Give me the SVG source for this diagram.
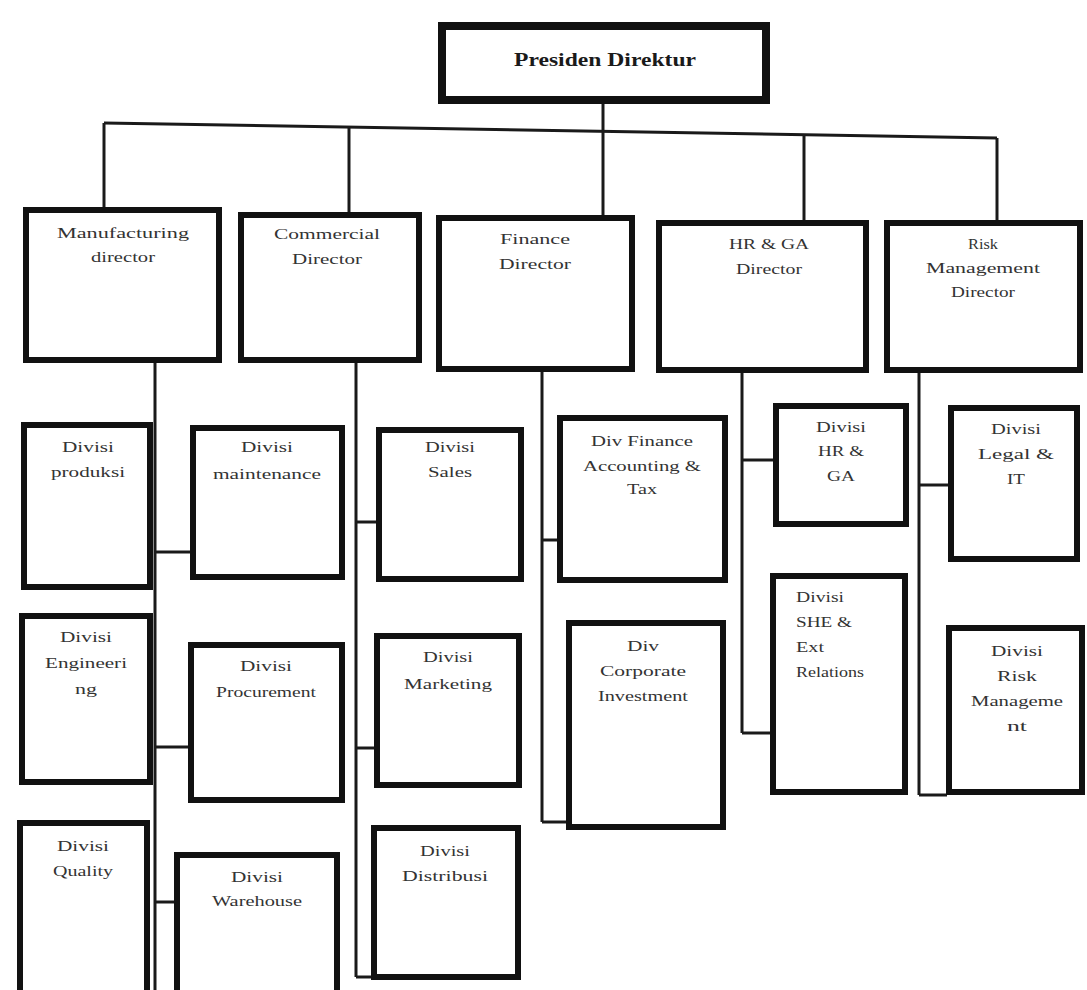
<svg xmlns="http://www.w3.org/2000/svg" width="1087" height="990" viewBox="0 0 1087 990">
<style>
.bg{fill:#ffffff}
.top{fill:#fff;stroke:#111;stroke-width:8}
.l2{fill:#fff;stroke:#111;stroke-width:6}
.l3{fill:#fff;stroke:#111;stroke-width:6}
.c{fill:none;stroke:#1a1a1a;stroke-width:3}
text{font-family:"Liberation Serif","Times New Roman",serif;fill:#333;text-anchor:middle;font-size:14px}
.t0{font-weight:bold;font-size:18px;fill:#1a1a1a}
.la{text-anchor:start}
</style>
<rect class="bg" x="0" y="0" width="1087" height="990"/>

<g id="connectors">
<polyline class="c" points="603,104 603,131"/>
<polyline class="c" points="104,123 997,138"/>
<line class="c" x1="104" y1="123" x2="104" y2="208"/>
<line class="c" x1="349" y1="127" x2="349" y2="213"/>
<line class="c" x1="603" y1="131" x2="603" y2="216"/>
<line class="c" x1="804" y1="135" x2="804" y2="221"/>
<line class="c" x1="997" y1="138" x2="997" y2="221"/>
<line class="c" x1="155" y1="362" x2="155" y2="990"/>
<line class="c" x1="155" y1="552" x2="191" y2="552"/>
<line class="c" x1="155" y1="747" x2="189" y2="747"/>
<line class="c" x1="155" y1="902" x2="175" y2="902"/>
<line class="c" x1="356" y1="362" x2="356" y2="977"/>
<line class="c" x1="356" y1="522" x2="377" y2="522"/>
<line class="c" x1="356" y1="748" x2="375" y2="748"/>
<line class="c" x1="356" y1="977" x2="372" y2="977"/>
<line class="c" x1="542" y1="371" x2="542" y2="822"/>
<line class="c" x1="542" y1="540" x2="558" y2="540"/>
<line class="c" x1="542" y1="822" x2="567" y2="822"/>
<line class="c" x1="742" y1="372" x2="742" y2="733"/>
<line class="c" x1="742" y1="460" x2="774" y2="460"/>
<line class="c" x1="742" y1="733" x2="771" y2="733"/>
<line class="c" x1="919" y1="372" x2="919" y2="795"/>
<line class="c" x1="919" y1="485" x2="949" y2="485"/>
<line class="c" x1="919" y1="795" x2="947" y2="795"/>
</g>

<g id="presiden-direktur">
<rect class="top" x="442" y="26" width="324" height="74"/>
<text class="t0" x="605" y="66" textLength="182" lengthAdjust="spacingAndGlyphs">Presiden Direktur</text>
</g>

<g id="manufacturing-director">
<rect class="l2" x="26" y="210" width="193" height="150"/>
<text x="123" y="238" textLength="132" lengthAdjust="spacingAndGlyphs">Manufacturing</text>
<text x="123" y="262" textLength="64" lengthAdjust="spacingAndGlyphs">director</text>
</g>
<g id="commercial-director">
<rect class="l2" x="241" y="215" width="178" height="145"/>
<text x="327" y="239" textLength="106" lengthAdjust="spacingAndGlyphs">Commercial</text>
<text x="327" y="264" textLength="70" lengthAdjust="spacingAndGlyphs">Director</text>
</g>
<g id="finance-director">
<rect class="l2" x="439" y="218" width="193" height="151"/>
<text x="535" y="244" textLength="70" lengthAdjust="spacingAndGlyphs">Finance</text>
<text x="535" y="269" textLength="72" lengthAdjust="spacingAndGlyphs">Director</text>
</g>
<g id="hr-ga-director">
<rect class="l2" x="659" y="223" width="207" height="147"/>
<text x="769" y="249" textLength="80" lengthAdjust="spacingAndGlyphs">HR &amp; GA</text>
<text x="769" y="274" textLength="66" lengthAdjust="spacingAndGlyphs">Director</text>
</g>
<g id="risk-management-director">
<rect class="l2" x="887" y="223" width="193" height="147"/>
<text x="983" y="249" textLength="30" lengthAdjust="spacingAndGlyphs">Risk</text>
<text x="983" y="273" textLength="114" lengthAdjust="spacingAndGlyphs">Management</text>
<text x="983" y="297" textLength="64" lengthAdjust="spacingAndGlyphs">Director</text>
</g>

<g id="divisi-produksi">
<rect class="l3" x="24" y="425" width="126" height="162"/>
<text x="88" y="452" textLength="52" lengthAdjust="spacingAndGlyphs">Divisi</text>
<text x="88" y="477" textLength="74" lengthAdjust="spacingAndGlyphs">produksi</text>
</g>
<g id="divisi-engineering">
<rect class="l3" x="22" y="616" width="128" height="166"/>
<text x="86" y="642" textLength="52" lengthAdjust="spacingAndGlyphs">Divisi</text>
<text x="86" y="668" textLength="82" lengthAdjust="spacingAndGlyphs">Engineeri</text>
<text x="86" y="694" textLength="22" lengthAdjust="spacingAndGlyphs">ng</text>
</g>
<g id="divisi-quality">
<rect class="l3" x="20" y="823" width="127" height="175"/>
<text x="83" y="851" textLength="52" lengthAdjust="spacingAndGlyphs">Divisi</text>
<text x="83" y="876" textLength="60" lengthAdjust="spacingAndGlyphs">Quality</text>
</g>
<g id="divisi-maintenance">
<rect class="l3" x="193" y="428" width="149" height="149"/>
<text x="267" y="452" textLength="52" lengthAdjust="spacingAndGlyphs">Divisi</text>
<text x="267" y="479" textLength="108" lengthAdjust="spacingAndGlyphs">maintenance</text>
</g>
<g id="divisi-procurement">
<rect class="l3" x="191" y="645" width="151" height="155"/>
<text x="266" y="671" textLength="52" lengthAdjust="spacingAndGlyphs">Divisi</text>
<text x="266" y="697" textLength="100" lengthAdjust="spacingAndGlyphs">Procurement</text>
</g>
<g id="divisi-warehouse">
<rect class="l3" x="177" y="855" width="160" height="145"/>
<text x="257" y="882" textLength="52" lengthAdjust="spacingAndGlyphs">Divisi</text>
<text x="257" y="906" textLength="90" lengthAdjust="spacingAndGlyphs">Warehouse</text>
</g>
<g id="divisi-sales">
<rect class="l3" x="379" y="430" width="142" height="149"/>
<text x="450" y="452" textLength="50" lengthAdjust="spacingAndGlyphs">Divisi</text>
<text x="450" y="477" textLength="44" lengthAdjust="spacingAndGlyphs">Sales</text>
</g>
<g id="divisi-marketing">
<rect class="l3" x="377" y="636" width="142" height="149"/>
<text x="448" y="662" textLength="50" lengthAdjust="spacingAndGlyphs">Divisi</text>
<text x="448" y="689" textLength="88" lengthAdjust="spacingAndGlyphs">Marketing</text>
</g>
<g id="divisi-distribusi">
<rect class="l3" x="374" y="828" width="144" height="149"/>
<text x="445" y="856" textLength="50" lengthAdjust="spacingAndGlyphs">Divisi</text>
<text x="445" y="881" textLength="86" lengthAdjust="spacingAndGlyphs">Distribusi</text>
</g>
<g id="div-finance-accounting-tax">
<rect class="l3" x="560" y="418" width="165" height="162"/>
<text x="642" y="446" textLength="102" lengthAdjust="spacingAndGlyphs">Div Finance</text>
<text x="642" y="471" textLength="118" lengthAdjust="spacingAndGlyphs">Accounting &amp;</text>
<text x="642" y="494" textLength="30" lengthAdjust="spacingAndGlyphs">Tax</text>
</g>
<g id="div-corporate-investment">
<rect class="l3" x="569" y="623" width="154" height="204"/>
<text x="643" y="651" textLength="32" lengthAdjust="spacingAndGlyphs">Div</text>
<text x="643" y="676" textLength="86" lengthAdjust="spacingAndGlyphs">Corporate</text>
<text x="643" y="701" textLength="90" lengthAdjust="spacingAndGlyphs">Investment</text>
</g>
<g id="divisi-hr-ga">
<rect class="l3" x="776" y="406" width="130" height="118"/>
<text x="841" y="432" textLength="50" lengthAdjust="spacingAndGlyphs">Divisi</text>
<text x="841" y="456" textLength="46" lengthAdjust="spacingAndGlyphs">HR &amp;</text>
<text x="841" y="481" textLength="28" lengthAdjust="spacingAndGlyphs">GA</text>
</g>
<g id="divisi-she-ext-relations">
<rect class="l3" x="773" y="576" width="132" height="216"/>
<text class="la" x="796" y="602" textLength="48" lengthAdjust="spacingAndGlyphs">Divisi</text>
<text class="la" x="796" y="627" textLength="56" lengthAdjust="spacingAndGlyphs">SHE &amp;</text>
<text class="la" x="796" y="652" textLength="28" lengthAdjust="spacingAndGlyphs">Ext</text>
<text class="la" x="796" y="677" textLength="68" lengthAdjust="spacingAndGlyphs">Relations</text>
</g>
<g id="divisi-legal-it">
<rect class="l3" x="951" y="408" width="126" height="151"/>
<text x="1016" y="434" textLength="50" lengthAdjust="spacingAndGlyphs">Divisi</text>
<text x="1016" y="459" textLength="76" lengthAdjust="spacingAndGlyphs">Legal &amp;</text>
<text x="1016" y="484" textLength="18" lengthAdjust="spacingAndGlyphs">IT</text>
</g>
<g id="divisi-risk-management">
<rect class="l3" x="949" y="628" width="133" height="164"/>
<text x="1017" y="656" textLength="52" lengthAdjust="spacingAndGlyphs">Divisi</text>
<text x="1017" y="681" textLength="40" lengthAdjust="spacingAndGlyphs">Risk</text>
<text x="1017" y="706" textLength="92" lengthAdjust="spacingAndGlyphs">Manageme</text>
<text x="1017" y="731" textLength="20" lengthAdjust="spacingAndGlyphs">nt</text>
</g>
</svg>
